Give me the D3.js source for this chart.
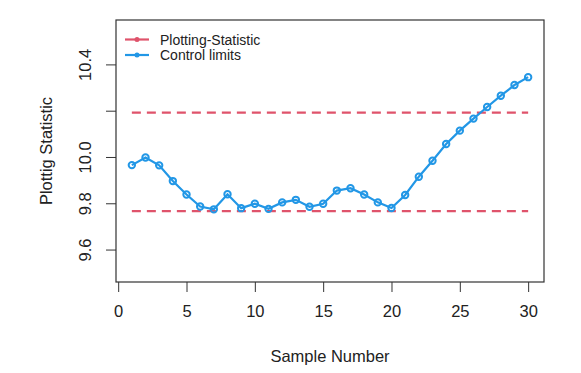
<!DOCTYPE html>
<html>
<head>
<meta charset="utf-8">
<script src="https://cdn.jsdelivr.net/npm/d3@7"></script>
<style>
  body { margin: 0; background: #fff; }
  svg text { font-family: "Liberation Sans", Arial, sans-serif; fill: #222; }
</style>
</head>
<body>
<div id="chart"></div>
<script>
// Plotting statistic per sample
const samples = d3.range(1, 31);
const statValues = [9.967, 10.000, 9.966, 9.898, 9.840, 9.788, 9.776, 9.841, 9.781, 9.800,
                    9.778, 9.806, 9.817, 9.787, 9.800, 9.857, 9.867, 9.840, 9.806, 9.782,
                    9.838, 9.917, 9.986, 10.058, 10.116, 10.168, 10.218, 10.267, 10.313, 10.347];
const ucl = 10.194;
const lcl = 9.768;
const xTicks = [0, 5, 10, 15, 20, 25, 30];
const yTicks = [9.6, 9.8, 10.0, 10.2, 10.4];
const yTickLabels = ["9.6", "9.8", "10.0", "", "10.4"];
const legendLabels = ["Plotting-Statistic", "Control limits"];

const red = "#DF536B", blue = "#2297E6";

const W = 581, H = 373;
const box = { left: 116, right: 544, top: 20, bottom: 282 };

const svg = d3.select("#chart").append("svg")
    .attr("width", W)
    .attr("height", H);

const x = d3.scaleLinear().domain([-0.16, 31.16]).range([box.left, box.right]);
const y = d3.scaleLinear().domain([9.462, 10.594]).range([box.bottom, box.top]);

// x axis
const xAxis = svg.append("g")
    .attr("transform", `translate(0,${box.bottom})`)
    .call(d3.axisBottom(x).tickValues(xTicks).tickSize(10).tickPadding(13).tickFormat(d3.format("d")));
xAxis.select(".domain").remove();
xAxis.selectAll("line").attr("stroke", "#333");
xAxis.selectAll("text").style("font-size", "16.5px").attr("fill", "#222");

// y axis
const yAxis = svg.append("g")
    .attr("transform", `translate(${box.left},0)`)
    .call(d3.axisLeft(y).tickValues(yTicks).tickSize(10).tickFormat((d, i) => yTickLabels[i]));
yAxis.select(".domain").remove();
yAxis.selectAll("line").attr("stroke", "#333");
yAxis.selectAll(".tick").attr("transform", null);
yAxis.selectAll(".tick line").attr("y1", d => y(d)).attr("y2", d => y(d));
yAxis.selectAll("text")
    .style("font-size", "16.5px")
    .attr("fill", "#222")
    .attr("text-anchor", "middle")
    .attr("dy", null)
    .attr("x", 0)
    .attr("y", 0)
    .attr("dominant-baseline", "central")
    .attr("transform", d => `translate(-31,${y(d)}) rotate(-90)`);

// plot box
svg.append("rect")
    .attr("x", box.left).attr("y", box.top)
    .attr("width", box.right - box.left).attr("height", box.bottom - box.top)
    .attr("fill", "none").attr("stroke", "#333").attr("stroke-width", 1.2);

// control limits
[ucl, lcl].forEach(v => {
    svg.append("line")
        .attr("x1", x(1)).attr("x2", x(30))
        .attr("y1", y(v)).attr("y2", y(v))
        .attr("stroke", red).attr("stroke-width", 2.2)
        .attr("stroke-dasharray", "9,6");
});

// statistic line
const data = samples.map((s, i) => ({ s: s, v: statValues[i] }));
svg.append("path")
    .datum(data)
    .attr("fill", "none")
    .attr("stroke", blue)
    .attr("stroke-width", 2.2)
    .attr("d", d3.line().x(d => x(d.s)).y(d => y(d.v)));

svg.selectAll(".pt")
    .data(data)
    .enter().append("circle")
    .attr("class", "pt")
    .attr("cx", d => x(d.s))
    .attr("cy", d => y(d.v))
    .attr("r", 3.2)
    .attr("fill", "none")
    .attr("stroke", blue)
    .attr("stroke-width", 2);

// axis titles
svg.append("text")
    .attr("x", (box.left + box.right) / 2)
    .attr("y", 356)
    .attr("text-anchor", "middle")
    .attr("dominant-baseline", "central")
    .style("font-size", "16.5px")
    .text("Sample Number");

svg.append("text")
    .attr("transform", `translate(46,${(box.top + box.bottom) / 2}) rotate(-90)`)
    .attr("text-anchor", "middle")
    .attr("dominant-baseline", "central")
    .style("font-size", "16.5px")
    .text("Plottig Statistic");

// legend
const legend = svg.append("g");
[red, blue].forEach((c, i) => {
    const ly = 39.5 + i * 15.5;
    legend.append("line")
        .attr("x1", 125).attr("x2", 149)
        .attr("y1", ly).attr("y2", ly)
        .attr("stroke", c).attr("stroke-width", 2.2);
    legend.append("circle")
        .attr("cx", 137).attr("cy", ly).attr("r", 2.5)
        .attr("fill", c);
    legend.append("text")
        .attr("x", 160).attr("y", ly)
        .attr("dominant-baseline", "central")
        .style("font-size", "14px")
        .text(legendLabels[i]);
});
</script>
</body>
</html>
